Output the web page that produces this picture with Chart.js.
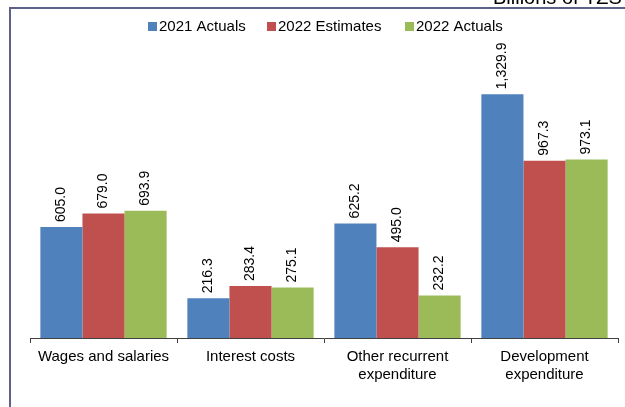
<!DOCTYPE html>
<html>
<head>
<meta charset="utf-8">
<script src="https://cdn.jsdelivr.net/npm/chart.js@4/dist/chart.umd.min.js"></script>
<style>
  html, body { margin: 0; padding: 0; background: #ffffff; overflow: hidden; }
  #wrap { position: relative; width: 625px; height: 407px; }
</style>
</head>
<body>
<div id="wrap"><canvas id="c" width="625" height="407"></canvas></div>
<script>
// Government expenditure by category, billions of TZS
const categories = [
  ['Wages and salaries'],
  ['Interest costs'],
  ['Other recurrent', 'expenditure'],
  ['Development', 'expenditure']
];
const seriesNames = ['2021 Actuals', '2022 Estimates', '2022 Actuals'];
const actuals2021 = [605.0, 216.3, 625.2, 1329.9];
const estimates2022 = [679.0, 283.4, 495.0, 967.3];
const actuals2022 = [693.9, 275.1, 232.2, 973.1];
const unitLabel = 'Billions of TZS';

const colors = ['#4F81BD', '#C0504D', '#9BBB59'];
const FONT = '"Liberation Sans", Arial, sans-serif';

const fmt = v => v.toLocaleString('en-US', { minimumFractionDigits: 1, maximumFractionDigits: 1 });

// Frame, unit caption and legend drawn on the canvas
const decorations = {
  id: 'decorations',
  beforeDraw(chart) {
    const ctx = chart.ctx;
    ctx.save();
    ctx.fillStyle = '#ffffff';
    ctx.fillRect(0, 0, chart.width, chart.height);
    ctx.strokeStyle = '#5F6089';
    ctx.lineWidth = 2;
    ctx.beginPath();
    ctx.moveTo(10, chart.height);
    ctx.lineTo(10, 8);
    ctx.lineTo(chart.width, 8);
    ctx.stroke();

    ctx.fillStyle = '#000000';
    ctx.font = '20px ' + FONT;
    ctx.textBaseline = 'alphabetic';
    ctx.textAlign = 'left';
    ctx.fillText(unitLabel, 493, 4);

    // legend
    const starts = [148, 267, 405];
    ctx.font = '15px ' + FONT;
    ctx.textBaseline = 'middle';
    chart.data.datasets.forEach((ds, i) => {
      ctx.fillStyle = ds.backgroundColor;
      ctx.fillRect(starts[i], 22, 9, 9);
      ctx.fillStyle = '#000000';
      ctx.fillText(ds.label, starts[i] + 11, 27);
    });
    ctx.restore();
  },
  afterDatasetsDraw(chart) {
    const ctx = chart.ctx;
    ctx.save();
    ctx.fillStyle = '#000000';
    ctx.font = '14px ' + FONT;
    ctx.textAlign = 'left';
    ctx.textBaseline = 'middle';
    chart.data.datasets.forEach((ds, i) => {
      const meta = chart.getDatasetMeta(i);
      meta.data.forEach((bar, j) => {
        ctx.save();
        ctx.translate(bar.x, bar.y - 5);
        ctx.rotate(-Math.PI / 2);
        ctx.fillText(fmt(ds.data[j]), 0, 0);
        ctx.restore();
      });
    });
    ctx.restore();
  }
};

new Chart(document.getElementById('c'), {
  type: 'bar',
  data: {
    labels: categories,
    datasets: [
      { label: seriesNames[0], data: actuals2021, backgroundColor: colors[0] },
      { label: seriesNames[1], data: estimates2022, backgroundColor: colors[1] },
      { label: seriesNames[2], data: actuals2022, backgroundColor: colors[2] }
    ]
  },
  options: {
    responsive: false,
    animation: false,
    layout: { padding: { left: 30, right: 7, top: 63, bottom: 0 } },
    datasets: { bar: { categoryPercentage: 0.859, barPercentage: 1.0, borderWidth: 0 } },
    plugins: { legend: { display: false }, tooltip: { enabled: false } },
    scales: {
      y: { display: false, min: 0, max: 1500 },
      x: {
        offset: true,
        afterFit(scale) { scale.height = 407 - 338; },
        border: { display: true, color: '#404040', width: 1 },
        grid: { display: true, offset: true, drawOnChartArea: false, drawTicks: true, tickLength: 5, color: '#404040' },
        ticks: { color: '#000000', font: { family: FONT, size: 15 }, padding: 5, maxRotation: 0, autoSkip: false }
      }
    }
  },
  plugins: [decorations]
});
</script>
</body>
</html>
